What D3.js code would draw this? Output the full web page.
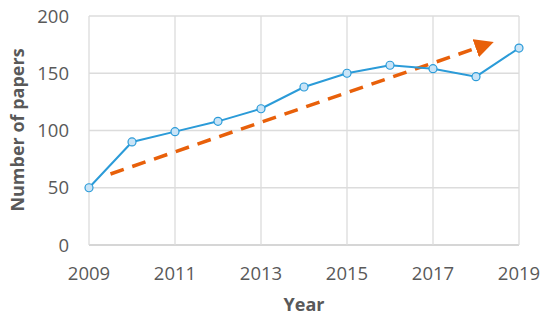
<!DOCTYPE html>
<html>
<head>
<script src="https://d3js.org/d3.v7.min.js"></script>
<style>
  body { margin: 0; background: #fff; }
  text { font-family: "Open Sans", "Liberation Sans", sans-serif; fill: #595959; }
  .tick-label { font-size: 18.5px; }
  .axis-title { font-size: 18px; font-weight: bold; }
</style>
</head>
<body>
<div id="chart"></div>
<script>
var years = [2009, 2010, 2011, 2012, 2013, 2014, 2015, 2016, 2017, 2018, 2019];
var papers = [50, 90, 99, 108, 119, 138, 150, 157, 154, 147, 172];
var xTicks = [2009, 2011, 2013, 2015, 2017, 2019];
var yTicks = [0, 50, 100, 150, 200];
// trend arrow, start and end in data units
var trendYears = [2009.5, 2018.45];
var trendValues = [62, 179];

var w = 550, h = 320;
var svg = d3.select("#chart").append("svg")
  .attr("width", w)
  .attr("height", h);

var x = d3.scaleLinear().domain([2009, 2019]).range([89, 519]);
var y = d3.scaleLinear().domain([0, 200]).range([245, 16]);

svg.append("defs").append("marker")
  .attr("id", "arrow")
  .attr("viewBox", "0 0 10 10")
  .attr("refX", 2)
  .attr("refY", 5)
  .attr("markerUnits", "userSpaceOnUse")
  .attr("markerWidth", 19)
  .attr("markerHeight", 19)
  .attr("orient", "auto")
  .append("path")
  .attr("d", "M0,0 L10,5 L0,10 Z")
  .attr("fill", "#E8600A");

// gridlines
svg.append("g").selectAll("line")
  .data(yTicks)
  .enter().append("line")
  .attr("x1", x(2009)).attr("x2", x(2019))
  .attr("y1", function(d) { return y(d); })
  .attr("y2", function(d) { return y(d); })
  .attr("stroke", function(d) { return d == 0 ? "#C8C8C8" : "#DCDCDC"; })
  .attr("stroke-width", 1.3);

svg.append("g").selectAll("line")
  .data(xTicks)
  .enter().append("line")
  .attr("x1", function(d) { return x(d); })
  .attr("x2", function(d) { return x(d); })
  .attr("y1", y(0)).attr("y2", y(200))
  .attr("stroke", "#DCDCDC")
  .attr("stroke-width", 1.3);

// tick labels
svg.append("g").selectAll("text")
  .data(yTicks)
  .enter().append("text")
  .attr("class", "tick-label")
  .attr("x", 69)
  .attr("y", function(d) { return y(d) + 6.5; })
  .attr("text-anchor", "end")
  .text(function(d) { return d; });

svg.append("g").selectAll("text")
  .data(xTicks)
  .enter().append("text")
  .attr("class", "tick-label")
  .attr("x", function(d) { return x(d); })
  .attr("y", 280)
  .attr("text-anchor", "middle")
  .text(function(d) { return d; });

svg.append("text")
  .attr("class", "axis-title")
  .attr("x", 304)
  .attr("y", 311)
  .attr("text-anchor", "middle")
  .text("Year");

svg.append("text")
  .attr("class", "axis-title")
  .attr("transform", "translate(24,130) rotate(-90)")
  .attr("text-anchor", "middle")
  .text("Number of papers");

// trend arrow
svg.append("line")
  .attr("x1", x(trendYears[0]))
  .attr("y1", y(trendValues[0]))
  .attr("x2", x(trendYears[1]) - 16)
  .attr("y2", y(trendValues[1]) + 7)
  .attr("stroke", "#E8600A")
  .attr("stroke-width", 3.5)
  .attr("stroke-dasharray", "14,9")
  .attr("marker-end", "url(#arrow)");

// data line
var line = d3.line()
  .x(function(d, i) { return x(years[i]); })
  .y(function(d) { return y(d); });

svg.append("path")
  .datum(papers)
  .attr("d", line)
  .attr("fill", "none")
  .attr("stroke", "#2B9BD8")
  .attr("stroke-width", 2);

svg.append("g").selectAll("circle")
  .data(papers)
  .enter().append("circle")
  .attr("cx", function(d, i) { return x(years[i]); })
  .attr("cy", function(d) { return y(d); })
  .attr("r", 4)
  .attr("fill", "#C9E4F7")
  .attr("stroke", "#2B9BD8")
  .attr("stroke-width", 1.2);
</script>
</body>
</html>
